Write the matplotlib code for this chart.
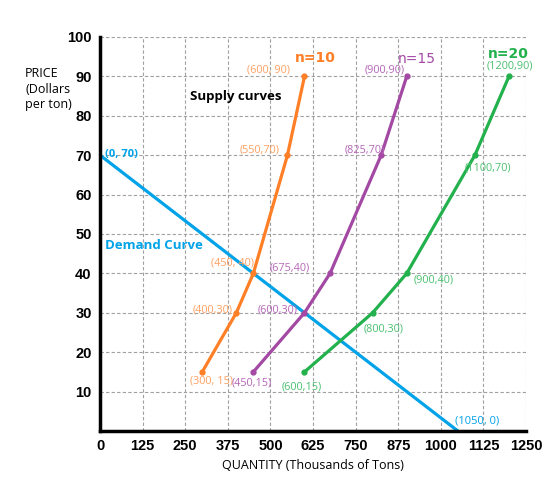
import matplotlib
matplotlib.use("Agg")
import matplotlib.pyplot as plt

# --- Datos --------------------------------------------------------------
q_n10 = [300, 400, 450, 550, 600]
p_n10 = [15, 30, 40, 70, 90]
q_n15 = [450, 600, 675, 825, 900]
p_n15 = [15, 30, 40, 70, 90]
q_n20 = [600, 800, 900, 1100, 1200]
p_n20 = [15, 30, 40, 70, 90]
q_dem = [0, 1050]
p_dem = [70, 0]

x_ticks = [0, 125, 250, 375, 500, 625, 750, 875, 1000, 1125, 1250]
y_ticks = [10, 20, 30, 40, 50, 60, 70, 80, 90, 100]

NARANJA, NAR_TXT = "#ff7f27", "#ffa060"
MORADO, MOR_TXT = "#a349a4", "#b566b8"
VERDE, VER_TXT = "#22b14c", "#4cc070"
AZUL = "#00a2e8"

fig = plt.figure(figsize=(5.6, 4.83), dpi=100)
ax = fig.add_axes([0.1786, 0.1077, 0.7607, 0.8157])

ax.plot(q_dem, p_dem, color=AZUL, lw=2.3)
ax.plot(q_n10, p_n10, color=NARANJA, lw=2.3, marker="o", ms=3.5)
ax.plot(q_n15, p_n15, color=MORADO, lw=2.3, marker="o", ms=3.5)
ax.plot(q_n20, p_n20, color=VERDE, lw=2.3, marker="o", ms=3.5)

ax.set_xlim(0, 1250); ax.set_ylim(0, 100)
ax.set_xticks(x_ticks); ax.set_yticks(y_ticks)
ax.grid(True, ls=(0, (3, 2)), color="#a0a0a0", lw=0.8)
ax.tick_params(length=0, labelsize=10.5, pad=6)
for lab in ax.get_xticklabels() + ax.get_yticklabels():
    lab.set_fontweight("bold"); lab.set_family("Liberation Sans")
for s in ("top", "right"):
    ax.spines[s].set_visible(False)
for s in ("left", "bottom"):
    ax.spines[s].set_linewidth(2.5)

ax.set_xlabel("QUANTITY (Thousands of Tons)", fontsize=9, family="Open Sans")
fig.text(0.045, 0.815, "PRICE\n(Dollars\nper ton)", fontsize=9, family="Open Sans",
         va="center", ha="left", linespacing=1.25)

ax.text(264, 84, "Supply curves", fontsize=9.5, fontweight="bold", family="Open Sans")
ax.text(15, 47.2, "Demand Curve", fontsize=9.5, fontweight="bold", color=AZUL,
        family="Open Sans", va="center")

ax.text(572, 94.7, "n=10", color=NARANJA, fontsize=10, fontweight="bold", va="center")
ax.text(874, 94.3, "n=15", color=MORADO, fontsize=10, va="center")
ax.text(1137, 95.6, "n=20", color=VERDE, fontsize=10, fontweight="bold", va="center")

etiquetas = [
    ("(600, 90)", 493, 91.6, NAR_TXT), ("(550,70)", 469, 71.3, NAR_TXT),
    ("(450, 40)", 390, 42.6, NAR_TXT), ("(400,30)", 331, 30.7, NAR_TXT),
    ("(300, 15)", 328, 12.7, NAR_TXT),
    ("(900,90)", 835, 91.6, MOR_TXT), ("(825,70)", 777, 71.3, MOR_TXT),
    ("(675,40)", 557, 41.4, MOR_TXT), ("(600,30)", 522, 30.7, MOR_TXT),
    ("(450,15)", 446, 12.2, MOR_TXT),
    ("(1200,90)", 1203, 92.6, VER_TXT), ("(1100,70)", 1138, 66.8, VER_TXT),
    ("(900,40)", 980, 38.3, VER_TXT), ("(800,30)", 833, 25.9, VER_TXT),
    ("(600,15)", 592, 11.2, VER_TXT),
]
for txt, x, y, c in etiquetas:
    ax.text(x, y, txt, color=c, fontsize=7.8, ha="center", va="center",
            family="Open Sans")

ax.text(64, 70.2, "(0, 70)", color=AZUL, fontsize=8, fontweight="bold",
        ha="center", va="center", family="Open Sans")
ax.text(1108, 2.6, "(1050, 0)", color=AZUL, fontsize=8, ha="center", va="center",
        family="Open Sans")

fig.savefig("out.png", dpi=100)
